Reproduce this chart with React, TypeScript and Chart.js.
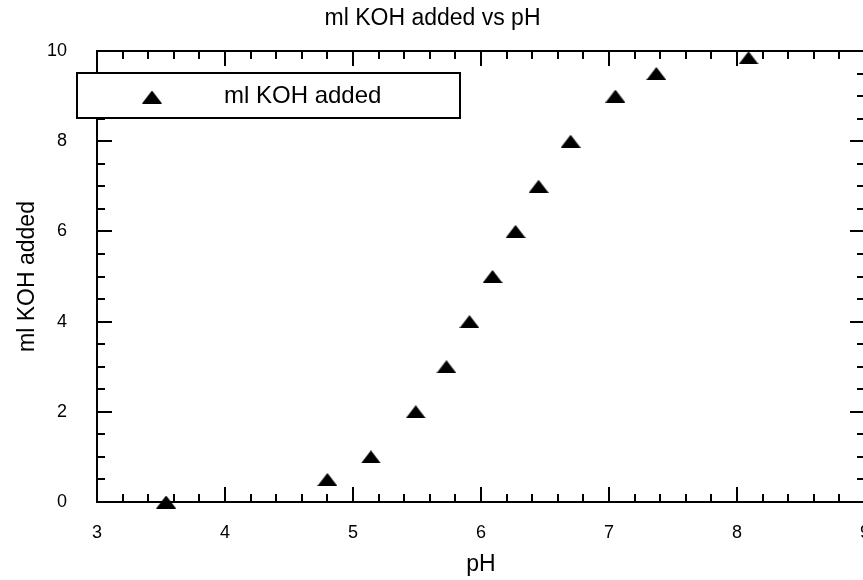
import React, { useEffect, useRef } from 'react';
import { Chart, registerables } from 'chart.js';

Chart.register(...registerables);

// ---- data ----
const pHValues = [3.54, 4.8, 5.14, 5.49, 5.73, 5.91, 6.09, 6.27, 6.45, 6.7, 7.05, 7.37, 8.09];
const mlKOHValues = [0, 0.5, 1, 2, 3, 4, 5, 6, 7, 8, 9, 9.5, 9.85];
const xMajorTicks = [3, 4, 5, 6, 7, 8, 9];
const yMajorTicks = [0, 2, 4, 6, 8, 10];
const xMinorStep = 0.2;
const yMinorStep = 0.5;
const chartTitle = 'ml KOH added vs pH';
const seriesLabel = 'ml KOH added';
const xAxisTitle = 'pH';
const yAxisTitle = 'ml KOH added';

const FONT = "'Liberation Sans', Arial, Helvetica, sans-serif";

function makeTriangle(w: number, h: number) {
  const c = document.createElement('canvas');
  c.width = w;
  c.height = h;
  const g = c.getContext('2d')!;
  g.fillStyle = '#000';
  g.beginPath();
  g.moveTo(w / 2, 0);
  g.lineTo(w, h);
  g.lineTo(0, h);
  g.closePath();
  g.fill();
  return c;
}

function range(min: number, max: number, step: number) {
  const out: number[] = [];
  const n = Math.round((max - min) / step);
  for (let i = 0; i <= n; i++) out.push(+(min + i * step).toFixed(6));
  return out;
}

const frameTicksPlugin = {
  id: 'frameTicks',
  beforeDatasetsDraw(chart: any) {
    const { ctx, chartArea, scales } = chart;
    const xs = scales.x;
    const ys = scales.y;
    const { left, right, top, bottom } = chartArea;
    ctx.save();
    ctx.strokeStyle = '#000';
    ctx.lineWidth = 2;
    ctx.lineCap = 'butt';
    ctx.beginPath();
    ctx.rect(left, top, right - left, bottom - top);
    ctx.stroke();
    const majorLen = 15;
    const minorLen = 8;
    const xMajor = new Set(xMajorTicks.map((v) => v.toFixed(4)));
    const yMajor = new Set(yMajorTicks.map((v) => v.toFixed(4)));
    ctx.beginPath();
    for (const v of range(xMajorTicks[0], xMajorTicks[xMajorTicks.length - 1], xMinorStep)) {
      const len = xMajor.has(v.toFixed(4)) ? majorLen : minorLen;
      const px = Math.round(xs.getPixelForValue(v));
      ctx.moveTo(px, bottom);
      ctx.lineTo(px, bottom - len);
      ctx.moveTo(px, top);
      ctx.lineTo(px, top + len);
    }
    for (const v of range(yMajorTicks[0], yMajorTicks[yMajorTicks.length - 1], yMinorStep)) {
      const len = yMajor.has(v.toFixed(4)) ? majorLen : minorLen;
      const py = Math.round(ys.getPixelForValue(v));
      ctx.moveTo(left, py);
      ctx.lineTo(left + len, py);
      ctx.moveTo(right, py);
      ctx.lineTo(right - len, py);
    }
    ctx.stroke();
    ctx.restore();
  },
};

const legendBoxPlugin = {
  id: 'legendBox',
  afterDatasetsDraw(chart: any) {
    const { ctx } = chart;
    const style = chart.data.datasets[0].pointStyle as HTMLCanvasElement;
    ctx.save();
    ctx.fillStyle = '#fff';
    ctx.strokeStyle = '#000';
    ctx.lineWidth = 2;
    ctx.fillRect(77, 73, 383, 45);
    ctx.strokeRect(77, 73, 383, 45);
    ctx.drawImage(style, 152 - style.width / 2, 97 - style.height / 2);
    ctx.fillStyle = '#000';
    ctx.font = `24px ${FONT}`;
    ctx.textBaseline = 'middle';
    ctx.textAlign = 'left';
    ctx.fillText(chart.data.datasets[0].label, 224, 96);
    ctx.restore();
  },
};

export default function App() {
  const ref = useRef<HTMLCanvasElement>(null);

  useEffect(() => {
    if (!ref.current) return;
    const tri = makeTriangle(20, 13);
    const chart = new Chart(ref.current, {
      type: 'scatter',
      data: {
        datasets: [
          {
            label: seriesLabel,
            data: pHValues.map((x, i) => ({ x, y: mlKOHValues[i] })),
            pointStyle: tri as any,
            pointRadius: 8,
            backgroundColor: '#000',
            borderColor: '#000',
            clip: false as any,
          },
        ],
      },
      options: {
        animation: false,
        responsive: false,
        events: [],
        layout: { autoPadding: false, padding: 0 },
        plugins: {
          legend: { display: false },
          tooltip: { enabled: false },
          title: {
            display: true,
            text: chartTitle,
            color: '#000',
            font: { family: FONT, size: 23, weight: 'normal' },
            padding: { top: 5, bottom: 18.4 },
          },
        },
        scales: {
          x: {
            type: 'linear',
            min: xMajorTicks[0],
            max: xMajorTicks[xMajorTicks.length - 1],
            grid: { display: false, drawTicks: false },
            border: { display: false },
            ticks: {
              stepSize: 1,
              color: '#000',
              padding: 20,
              maxRotation: 0,
              autoSkip: false,
              font: { family: FONT, size: 18 },
            },
            title: {
              display: true,
              text: xAxisTitle,
              color: '#000',
              font: { family: FONT, size: 23 },
              padding: { top: 2, bottom: 2 },
            },
            afterFit(scale: any) {
              scale.height = 78;
              scale.paddingLeft = 0;
              scale.paddingRight = 0;
            },
          },
          y: {
            type: 'linear',
            min: yMajorTicks[0],
            max: yMajorTicks[yMajorTicks.length - 1],
            grid: { display: false, drawTicks: false },
            border: { display: false },
            ticks: {
              stepSize: 2,
              color: '#000',
              padding: 30,
              autoSkip: false,
              font: { family: FONT, size: 18 },
            },
            title: {
              display: true,
              text: yAxisTitle,
              color: '#000',
              font: { family: FONT, size: 23 },
              padding: { top: 14, bottom: 14 },
            },
            afterFit(scale: any) {
              scale.width = 97;
              scale.paddingTop = 0;
              scale.paddingBottom = 0;
            },
          },
        },
      },
      plugins: [frameTicksPlugin, legendBoxPlugin],
    });
    return () => chart.destroy();
  }, []);

  return (
    <div
      style={{
        position: 'fixed',
        left: 0,
        top: 0,
        width: 863,
        height: 580,
        overflow: 'hidden',
        background: '#fff',
      }}
    >
      <canvas ref={ref} width={865} height={580} style={{ display: 'block' }} />
    </div>
  );
}
